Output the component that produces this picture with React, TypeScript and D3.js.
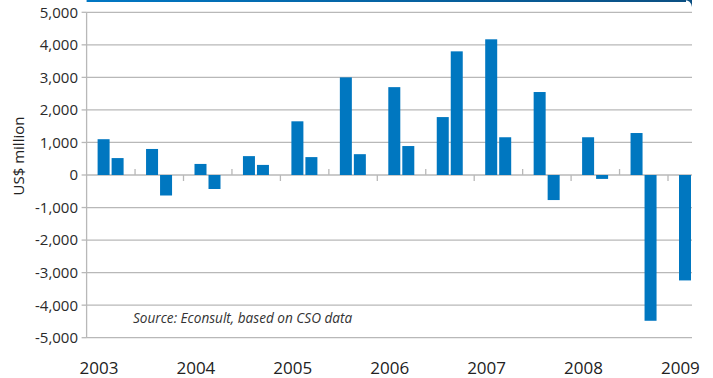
import React from "react";
import * as d3 from "d3";

const quarters = [
  "2003Q1","2003Q2","2003Q3","2003Q4",
  "2004Q1","2004Q2","2004Q3","2004Q4",
  "2005Q1","2005Q2","2005Q3","2005Q4",
  "2006Q1","2006Q2","2006Q3","2006Q4",
  "2007Q1","2007Q2","2007Q3","2007Q4",
  "2008Q1","2008Q2","2008Q3","2008Q4",
  "2009Q1",
];
const values = [
  1100, 520, 800, -630,
  340, -430, 580, 310,
  1650, 550, 3000, 640,
  2700, 890, 1780, 3800,
  4170, 1160, 2550, -770,
  1160, -120, 1290, -4480,
  -3240,
];
const yearLabels = ["2003", "2004", "2005", "2006", "2007", "2008", "2009"];
const yTicks = [5000, 4000, 3000, 2000, 1000, 0, -1000, -2000, -3000, -4000, -5000];

const W = 713, H = 378;
const left = 86.6, step = 48.45, right = 692;
const halves = d3.range(13);

export default function App() {
  const y = d3.scaleLinear().domain([-5000, 5000]).range([337.7, 12.3]);
  const xHalf = d3.scaleBand<number>().domain(halves).range([left, left + 13 * step]).padding(0);
  const xSub = d3.scaleBand<number>().domain([0, 1]).range([11, 37]).paddingInner(1 / 7).paddingOuter(0);
  const fmt = d3.format(",");
  const y0 = y(0);
  const font = "'Open Sans', 'Noto Sans', sans-serif";

  return (
    <svg width={W} height={H} style={{ position: "absolute", left: 0, top: 0 }}>
      <defs>
        <linearGradient id="topg" gradientUnits="userSpaceOnUse" x1={left} x2={692} y1={0} y2={0}>
          <stop offset="0" stopColor="#0077c4" />
          <stop offset="1" stopColor="#0b4f82" />
        </linearGradient>
      </defs>
      <rect width={W} height={H} fill="#fff" />
      {/* top frame */}
      <path d={`M684,0 Q691,0 692,7 L692,0 Z`} fill="#0b4f82" />
      <rect x={left} y={0} width={686 - left} height={2} fill="url(#topg)" />
      {/* gridlines */}
      {yTicks.map((t) => (
        <line key={t} x1={left} x2={right} y1={y(t)} y2={y(t)} stroke="#b8b8b8" strokeWidth={1.3} />
      ))}
      {/* y axis */}
      <line x1={left} x2={left} y1={y(5000)} y2={y(-5000)} stroke="#b8b8b8" strokeWidth={1.3} />
      {yTicks.map((t) => (
        <line key={"tk" + t} x1={left - 5} x2={left} y1={y(t)} y2={y(t)} stroke="#b8b8b8" strokeWidth={1.3} />
      ))}
      {yTicks.map((t) => (
        <text key={"lb" + t} x={78} y={y(t)} dy="0.36em" textAnchor="end" fontFamily={font} fontSize={15} fill="#2a2a2a">
          {fmt(t).replace("−", "-")}
        </text>
      ))}
      {/* x ticks at half boundaries */}
      {halves.slice(1).map((h) => {
        const xx = xHalf(h)!;
        if (xx > right) return null;
        const yearBoundary = h % 2 === 0;
        return (
          <line key={"xt" + h} x1={xx} x2={xx} y1={yearBoundary ? y0 : y0 - 6} y2={yearBoundary ? y0 + 6 : y0}
            stroke="#b8b8b8" strokeWidth={1.3} />
        );
      })}
      {/* bars */}
      {values.map((v, i) => {
        const h = Math.floor(i / 2);
        const s = i % 2;
        const x = xHalf(h)! + xSub(s)!;
        return (
          <rect key={quarters[i]} x={x} width={xSub.bandwidth()} y={Math.min(y(v), y0)} height={Math.abs(y(v) - y0)} fill="#0077c0" />
        );
      })}
      {/* year labels */}
      {yearLabels.map((yl, k) => (
        <text key={yl} x={xHalf(k * 2)! + 12.4} y={374} textAnchor="middle" fontFamily={font} fontSize={17} fill="#222">
          {yl}
        </text>
      ))}
      {/* y title */}
      <text transform={`translate(24,156) rotate(-90)`} textAnchor="middle" fontFamily={font} fontSize={15} fill="#222">
        US$ million
      </text>
      <text x={133} y={323} fontFamily={font} fontStyle="italic" fontSize={13.6} fill="#333">
        Source: Econsult, based on CSO data
      </text>
    </svg>
  );
}
